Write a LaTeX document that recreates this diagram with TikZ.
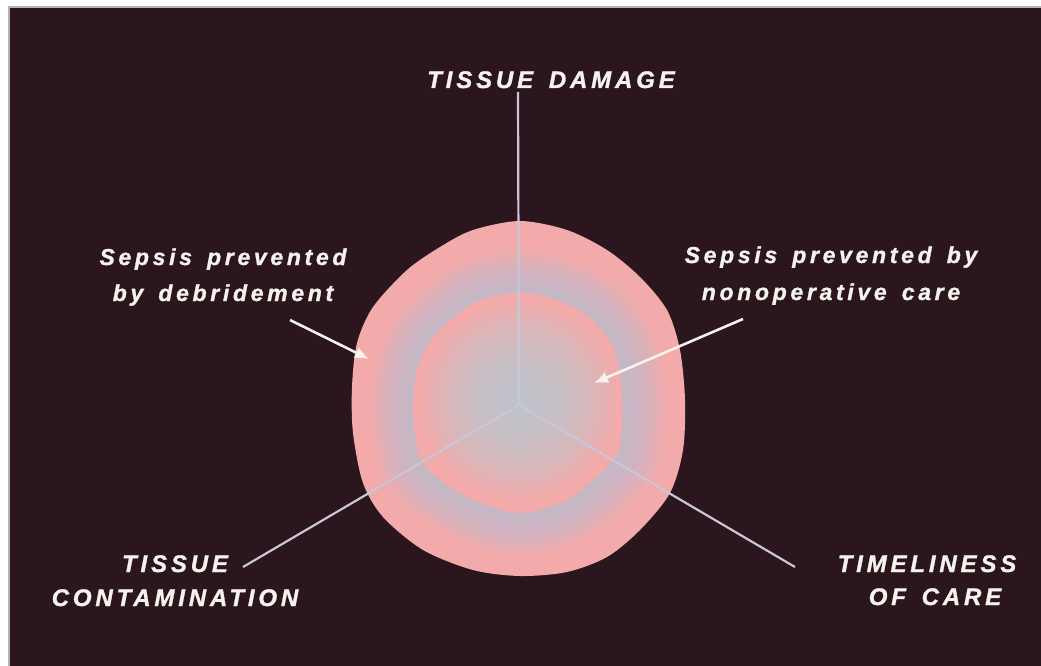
\documentclass[tikz,border=0pt]{standalone}
\usepackage{fontspec}
\usetikzlibrary{arrows.meta}
\newfontfamily\labfont[LetterSpace=16,WordSpace=1.5,FakeBold=1.2]{Liberation Sans Bold Italic}
\definecolor{bgdark}{RGB}{42,22,28}
\definecolor{pinkc}{RGB}{243,170,170}
\definecolor{bandc}{RGB}{186,193,214}
\definecolor{centc}{RGB}{182,206,214}
\definecolor{axisc}{RGB}{200,198,216}
\definecolor{textc}{RGB}{246,242,238}
\newcommand\outerp{plot[smooth cycle] coordinates {(520,221) (567,230) (607,250) (640,277) (667,310) (680,350) (685,400) (683,450) (670,493) (640,530) (607,557) (567,572) (520,576) (473,570) (423,550) (383,517) (363,483) (353,433) (352,387) (357,343) (373,307) (407,270) (440,247) (473,230)}}
\newcommand\innerp{plot[smooth cycle] coordinates {(518,293) (548,297) (587,315) (613,347) (622,390) (621,440) (612,462) (567,500) (518,513) (467,497) (425,467) (416,440) (413,407) (417,370) (433,337) (467,307) (490,297)}}
\tikzset{
  caplab/.style={text=textc, inner sep=0pt, anchor=base, font=\labfont\fontsize{24}{34}\selectfont},
  lowlab/.style={text=textc, inner sep=0pt, anchor=base, font=\labfont\fontsize{23}{36}\selectfont},
  axisline/.style={draw=axisc, line width=2.2pt},
  pointer/.style={draw=textc, line width=2.6pt, -{Latex[length=14pt,width=12pt]}}
}
\begin{document}
\begin{tikzpicture}[x=1pt,y=-1pt]
\useasboundingbox (0,0) rectangle (1041,666);
\fill[white] (0,0) rectangle (1041,666);
\fill[bgdark] (9,7) rectangle (1041,666);
\draw[gray!60, line width=1.5pt] (9,666) -- (9,7) -- (1041,7);

% coordinates
\coordinate (c) at (519,405);
\coordinate (td) at (518,92);
\coordinate (tc) at (243,567);
\coordinate (tl) at (795,567);
\coordinate (a1s) at (290,320);
\coordinate (a1e) at (369,359);
\coordinate (a2s) at (743,319);
\coordinate (a2e) at (594,383);

% shape
\fill[pinkc] \outerp;
\begin{scope}
  \clip \outerp;
  \foreach \w in {84,78,...,6} {
    \draw[bandc, line width=\w pt, opacity=0.095] \innerp;
  }
  \fill[pinkc] \innerp;
  \clip \innerp;
  \foreach \r in {96,90,...,6} {
    \fill[centc, opacity=0.1] (519,400) circle (\r);
  }
\end{scope}

% axes
\draw[axisline] (td) -- (c);
\draw[axisline] (tc) -- (c);
\draw[axisline] (tl) -- (c);

% arrows
\draw[pointer] (a1s) -- (a1e);
\draw[pointer] (a2s) -- (a2e);

% labels
\node[caplab] (damage) at (551,88) {TISSUE DAMAGE};
\node[lowlab] (deb1) at (223,265) {Sepsis prevented};
\node[lowlab] (deb2) at (223,301) {by debridement};
\node[lowlab] (non1) at (831,263) {Sepsis prevented by};
\node[lowlab] (non2) at (831,300) {nonoperative care};
\node[caplab] (cont1) at (175,572) {TISSUE};
\node[caplab] (cont2) at (175,606) {CONTAMINATION};
\node[caplab] (time1) at (927,572) {TIMELINESS};
\node[caplab] (time2) at (935,605) {OF CARE};
\end{tikzpicture}
\end{document}
